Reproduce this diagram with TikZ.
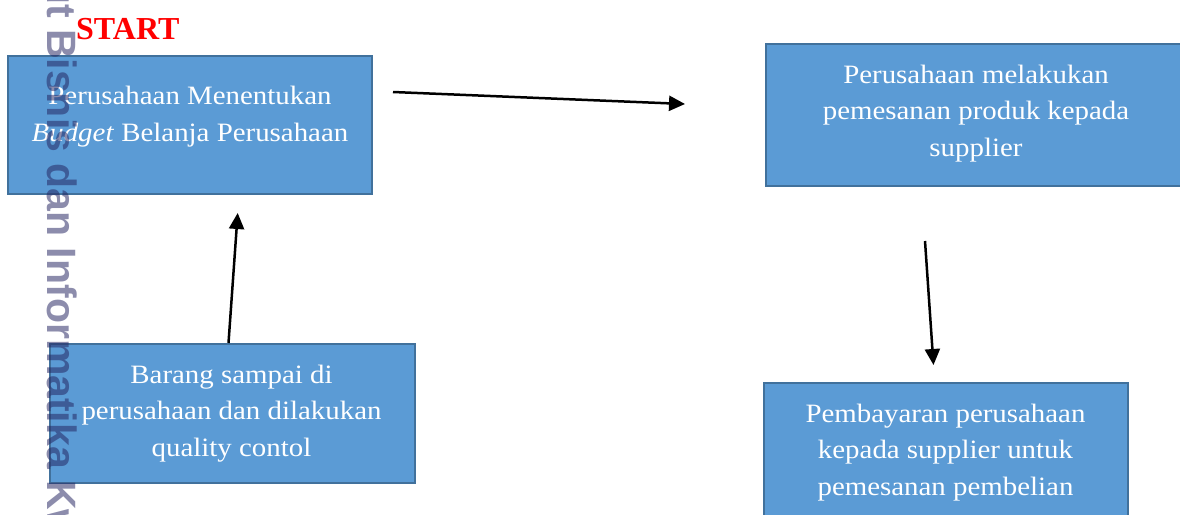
\documentclass[tikz,border=0pt]{standalone}
\usepackage{fontspec}
\setmainfont{Liberation Serif}[FakeStretch=1.09]
\newfontfamily\startfont{Liberation Serif}
\newfontfamily\wmfont{Liberation Sans}
\usetikzlibrary{arrows.meta}
\definecolor{boxfill}{RGB}{91,155,213}
\definecolor{boxline}{RGB}{65,113,156}
\definecolor{wmark}{RGB}{35,35,96}

\begin{document}
\begin{tikzpicture}[x=1pt, y=-1pt,
  box/.style={draw=boxline, line width=2pt, fill=boxfill, inner sep=0pt},
  txt/.style={text=white, align=center, anchor=north, inner sep=0pt, font=\fontsize{26.5}{36.5}\selectfont},
  arr/.style={line width=2.5pt, -{Triangle[length=16pt, width=15pt]}}]

\useasboundingbox (0,0) rectangle (1180,514);
\begin{scope}
\clip (0,0) rectangle (1180,514);

% START label
\node[anchor=base west, inner sep=0pt, text=red, font=\startfont\bfseries\fontsize{32}{36}\selectfont] (start) at (76,39.3) {START};

% Box 1 (budget)
\node[box, minimum width=364pt, minimum height=138pt] (budget) at (190,125) {};
\node[txt] (budgetTxt) at (190,86) {Perusahaan Menentukan\\\textit{Budget} Belanja Perusahaan};

% Box 2 (order to supplier)
\node[box, minimum width=424pt, minimum height=142pt] (pesan) at (978,115) {};
\node[txt] (pesanTxt) at (976,64.7) {Perusahaan melakukan\\pemesanan produk kepada\\supplier};

% Box 3 (payment)
\node[box, minimum width=364pt, minimum height=142pt] (bayar) at (946,454) {};
\node[txt] (bayarTxt) at (945.5,403.7) {Pembayaran perusahaan\\kepada supplier untuk\\pemesanan pembelian};

% Box 4 (goods arrive)
\node[box, minimum width=365pt, minimum height=139pt] (barang) at (232.5,413.5) {};
\node[txt] (barangTxt) at (231.5,364.5) {Barang sampai di\\perusahaan dan dilakukan\\quality contol};

% arrows (free ends)
\coordinate (a1s) at (393,92);
\coordinate (a1e) at (685,104);
\coordinate (a2s) at (925,241);
\coordinate (a2e) at (933.5,365);
\coordinate (a3s) at (228.5,343);
\coordinate (a3e) at (237.7,213);
\draw[arr] (a1s) -- (a1e);
\draw[arr] (a2s) -- (a2e);
\draw[arr] (a3s) -- (a3e); % back up to budget

% watermark
\node[anchor=base west, rotate=-90, inner sep=0pt, text=wmark, text opacity=0.52, font=\wmfont\bfseries\fontsize{41}{41}\selectfont] (wm) at (47,29) {\llap{Institut }Bisnis dan Informatika Kwik Kian Gie};

\end{scope}
\end{tikzpicture}
\end{document}
